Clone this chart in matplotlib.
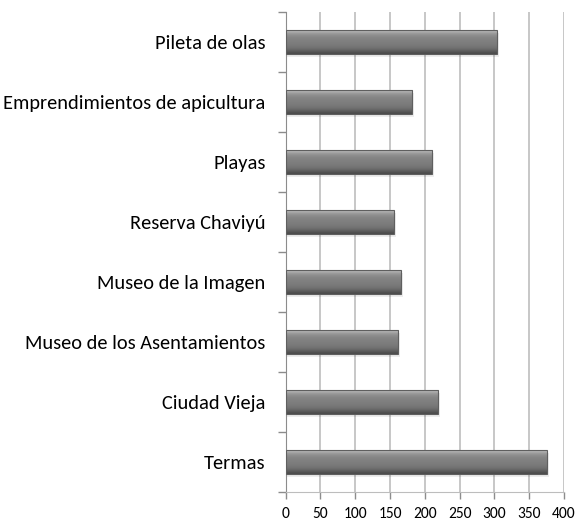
import numpy as np
import matplotlib
matplotlib.use("Agg")
import matplotlib.pyplot as plt
from matplotlib import font_manager
from matplotlib.textpath import TextPath
from matplotlib.font_manager import FontProperties

categories = ["Termas", "Ciudad Vieja", "Museo de los Asentamientos", "Museo de la Imagen",
              "Reserva Chaviyú", "Playas", "Emprendimientos de apicultura", "Pileta de olas"]
values = [375, 219, 161, 165, 155, 210, 182, 303]
xticks = [0, 50, 100, 150, 200, 250, 300, 350, 400]

names = {f.name for f in font_manager.fontManager.ttflist}
fam = next((n for n in ["Carlito", "Calibri", "Liberation Sans Narrow", "Lato"] if n in names), "DejaVu Sans")
plt.rcParams["font.family"] = [fam, "DejaVu Sans"]


def fit_size(text, width_px):
    # font size (pt) that makes text about width_px wide at 100 dpi
    tp = TextPath((0, 0), text, size=10, prop=FontProperties(family=fam))
    w = tp.get_extents().width / 72 * 100
    return 10 * width_px / w


label_size = fit_size("Emprendimientos de apicultura", 258)
tick_size = fit_size("400", 23)

fig = plt.figure(figsize=(5.78, 5.22), dpi=100)
ax = fig.add_axes([0.4943, 0.0575, 0.4815, 0.9195])

y = np.arange(len(categories))
h = 0.4

# vertical gradient for bevelled bars (top row of array = top of bar)
grad = np.array([0.72, 0.62, 0.56, 0.53, 0.51, 0.50, 0.49, 0.48, 0.46, 0.42, 0.37, 0.30])[:, None]
for yi, v in zip(y, values):
    ax.barh(yi - 0.05, v + 2, height=h, left=1, color="#000000", alpha=0.07, zorder=2, linewidth=0)
    im = ax.imshow(grad, cmap="gray", vmin=0, vmax=1, aspect="auto", origin="upper",
                   extent=(0, v, yi - h / 2, yi + h / 2), zorder=3, interpolation="bicubic")
    b = ax.barh(yi, v, height=h, color="none", edgecolor="#5f5f5f", linewidth=0.8, zorder=4)
    im.set_clip_path(b.patches[0])

ax.set_xlim(0, 400)
ax.set_ylim(-0.5, len(categories) - 0.5)
ax.set_xticks(xticks)
ax.set_xticklabels([str(t) for t in xticks], fontsize=tick_size)
ax.set_yticks(y)
ax.set_yticklabels(categories, fontsize=label_size)
ax.set_yticks(np.arange(-0.5, len(categories), 1), minor=True)
ax.tick_params(axis="y", which="major", length=0, pad=14.5)
ax.tick_params(axis="y", which="minor", length=6, color="#8c8c8c", width=1)
ax.tick_params(axis="x", length=5, color="#8c8c8c", width=1, pad=6)

ax.grid(axis="x", color="#bdbdbd", linewidth=1.2, zorder=0)
ax.set_axisbelow(True)
for s in ["top", "right"]:
    ax.spines[s].set_visible(False)
ax.spines["left"].set_color("#8c8c8c")
ax.spines["bottom"].set_color("#bdbdbd")

fig.savefig("out.png", dpi=100)
